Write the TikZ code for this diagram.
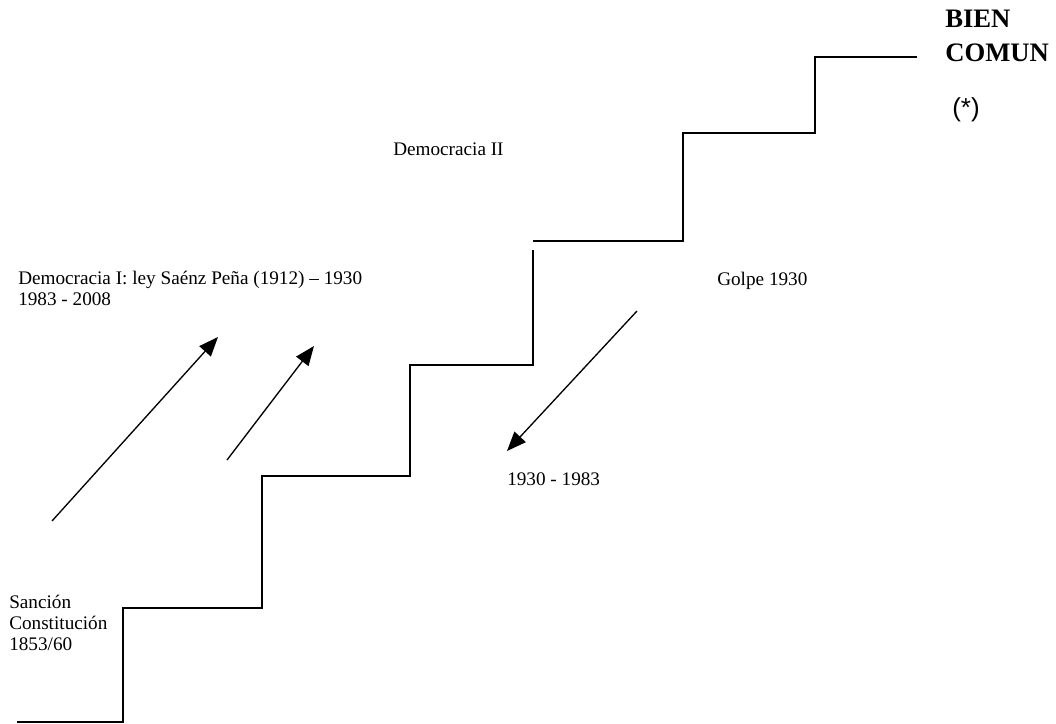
\documentclass[tikz,border=0pt]{standalone}
\usepackage{fontspec}
\setmainfont{Liberation Serif}
\newfontfamily\arialfont{Liberation Sans}
\usetikzlibrary{arrows.meta}

\begin{document}
\begin{tikzpicture}[x=0.75pt, y=-0.75pt, >={Triangle[length=14.5pt,width=11.5pt]},
    etiqueta/.style={anchor=base west, inner sep=0pt, align=left, font=\fontsize{14.4}{15.5}\selectfont},
    escalon/.style={line width=1.4pt},
    flecha/.style={->, line width=1pt}]
      \useasboundingbox (0,0) rectangle (1056,724);
      % escalera
      \draw[escalon] (17,722) -- (123,722) -- (123,608) -- (262,608) -- (262,476) -- (410,476) -- (410,365) -- (533,365) -- (533,250);
      \draw[escalon] (533,241) -- (683,241) -- (683,133) -- (815,133) -- (815,57) -- (917,57);
      % textos (base = ultima linea)
      \node[etiqueta] (sancion) at (9,650) {Sanción\\Constitución\\1853/60};
      \node[etiqueta] (demo1) at (18,305) {Democracia I: ley Saénz Peña (1912) -- 1930\\1983 - 2008};
      \node[etiqueta] (demo2) at (393,155) {Democracia II};
      \node[etiqueta] (golpe) at (717,285) {Golpe 1930};
      \node[etiqueta] (dictadura) at (507,485) {1930 - 1983};
      \node[etiqueta, font=\bfseries\fontsize{20}{25.5}\selectfont] (bien) at (945,62) {BIEN\\COMUN};
      \node[etiqueta, font=\arialfont\fontsize{19.5}{23}\selectfont] (nota) at (952,117) {(*)};
      % flechas
      \coordinate (subeA) at (52,521);
      \coordinate (llegaA) at (218,337);
      \coordinate (subeB) at (227,460);
      \coordinate (llegaB) at (314,346);
      \coordinate (bajaC) at (637,311);
      \coordinate (llegaC) at (507,451);
      \draw[flecha] (subeA) -- (llegaA);
      \draw[flecha] (subeB) -- (llegaB);
      \draw[flecha] (bajaC) -- (llegaC);
\end{tikzpicture}
\end{document}
